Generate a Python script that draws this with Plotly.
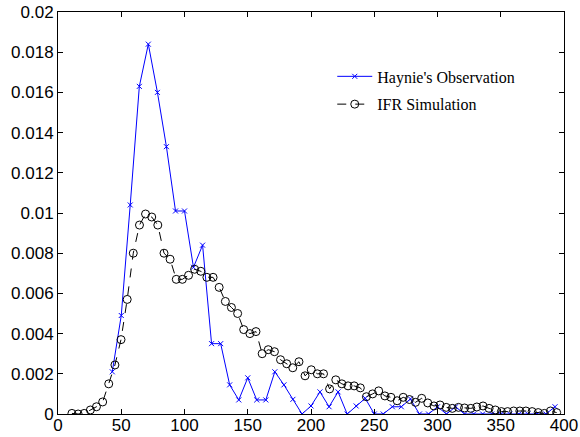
import plotly.graph_objects as go

# Haynie's observed distribution
obs_x = [42.9, 50.0, 57.1, 64.3, 71.4, 78.6, 85.7, 92.9, 100.0, 107.1, 114.3, 121.4,
         128.6, 135.7, 142.9, 150.0, 157.1, 164.3, 171.4, 178.6, 185.7, 192.9, 200.0,
         207.1, 214.3, 221.4, 228.6, 235.7, 242.9, 250.0, 257.1, 264.3, 271.4, 278.6,
         285.7, 292.9, 300.0, 307.1, 314.3, 321.4, 328.6, 335.7, 342.9, 350.0, 357.1,
         364.3, 371.4, 378.6, 385.7, 392.9]
obs_y = [0.0021, 0.0049, 0.0104, 0.0163, 0.0184, 0.0160, 0.0133, 0.0101, 0.0101, 0.0073,
         0.0084, 0.0035, 0.0035, 0.00145, 0.0007, 0.0018, 0.0007, 0.0007, 0.0021, 0.00145,
         0.00073, 0.0, 0.0004, 0.0011, 0.00036, 0.0011, 0.0, 0.0004, 0.00078, 0.0,
         0.0, 0.00036, 0.00036, 0.00075, 0.0, 0.0, 0.00036, 0.0, 0.00036, 0.0,
         0.0, 0.0, 0.0, 0.0, 0.0, 0.0, 0.0, 0.0, 0.0, 0.00036]

# IFR simulation result
sim_x = [11.0, 15.9, 20.7, 25.6, 30.4, 35.3, 40.1, 45.0, 49.8, 54.7, 59.5, 64.4, 69.2,
         74.1, 78.9, 83.8, 88.6, 93.5, 98.3, 103.2, 108.0, 112.9, 117.7, 122.6, 127.4,
         132.3, 137.1, 142.0, 146.8, 151.7, 156.5, 161.4, 166.2, 171.1, 175.9, 180.8,
         185.6, 190.5, 195.3, 200.2, 205.0, 209.9, 214.7, 219.6, 224.4, 229.3, 234.1,
         239.0, 243.8, 248.7, 253.5, 258.4, 263.2, 268.1, 272.9, 277.8, 282.6, 287.5,
         292.3, 297.2, 302.0, 306.9, 311.7, 316.6, 321.4, 326.3, 331.1, 336.0, 340.8,
         345.7, 350.5, 355.4, 360.2, 365.1, 369.9, 374.8, 379.6, 384.5, 389.3, 394.2]
sim_y = [0.00003, 0.0, 0.00003, 0.0002, 0.00036, 0.0006, 0.0015, 0.00244, 0.0037, 0.0057,
         0.0080, 0.0094, 0.00995, 0.0098, 0.0094, 0.0080, 0.0077, 0.0067, 0.0067, 0.0069,
         0.0072, 0.0071, 0.0068, 0.0068, 0.0063, 0.0056, 0.0053, 0.0050, 0.0042, 0.0040,
         0.0041, 0.0030, 0.0032, 0.0031, 0.0027, 0.0025, 0.0023, 0.0026, 0.0019, 0.0022,
         0.0020, 0.0020, 0.00125, 0.0017, 0.0015, 0.0014, 0.0014, 0.0013, 0.00086, 0.0010,
         0.00115, 0.0009, 0.00083, 0.00066, 0.00083, 0.00072, 0.00058, 0.00078, 0.00055, 0.0004,
         0.00045, 0.00033, 0.00028, 0.00033, 0.0003, 0.00028, 0.00035, 0.0004, 0.00028, 0.0002,
         0.00012, 0.00012, 0.00015, 0.00015, 0.00015, 0.00012, 0.00007, 0.00003, 0.00015, 0.00007]

x_ticks = [0, 50, 100, 150, 200, 250, 300, 350, 400]
y_ticks = [0, 0.002, 0.004, 0.006, 0.008, 0.01, 0.012, 0.014, 0.016, 0.018, 0.02]
y_tick_text = ["0", "0.002", "0.004", "0.006", "0.008", "0.01", "0.012", "0.014",
               "0.016", "0.018", "0.02"]

fig = go.Figure()
fig.add_trace(go.Scatter(
    x=obs_x, y=obs_y, mode="lines+markers", name="Haynie's Observation",
    legendgroup="obs",
    line=dict(color="rgb(0,0,255)", width=1),
    marker=dict(symbol="x-thin", size=5, line=dict(color="rgb(0,0,255)", width=1)),
))
fig.add_trace(go.Scatter(
    x=sim_x, y=sim_y, mode="lines+markers", name="IFR Simulation",
    legendgroup="sim",
    line=dict(color="black", width=1, dash="dash"),
    marker=dict(symbol="circle-open", size=8, color="black", line=dict(color="black", width=1)),
))

axis_common = dict(
    showgrid=False, zeroline=False, showline=True, linecolor="black", linewidth=1,
    mirror="ticks", ticks="inside", ticklen=5, tickcolor="black", automargin=False,
    tickfont=dict(family="Liberation Sans, Arial", size=17, color="black"),
)
fig.update_xaxes(range=[0, 400], tickvals=x_ticks, ticklabelstandoff=-4, **axis_common)
fig.update_yaxes(range=[0, 0.02], tickvals=y_ticks, ticktext=y_tick_text, **axis_common)

fig.update_layout(
    width=580, height=437,
    margin=dict(l=58, r=16, t=12, b=23),
    paper_bgcolor="white", plot_bgcolor="white",
    showlegend=True,
    legend=dict(
        x=0.542, y=0.882, xanchor="left", yanchor="top",
        bgcolor="rgba(255,255,255,0)", borderwidth=0,
        font=dict(family="Liberation Serif, Times New Roman", size=16, color="black"),
        tracegroupgap=4, traceorder="grouped", itemwidth=35,
    ),
)

fig.write_html("out.html")
